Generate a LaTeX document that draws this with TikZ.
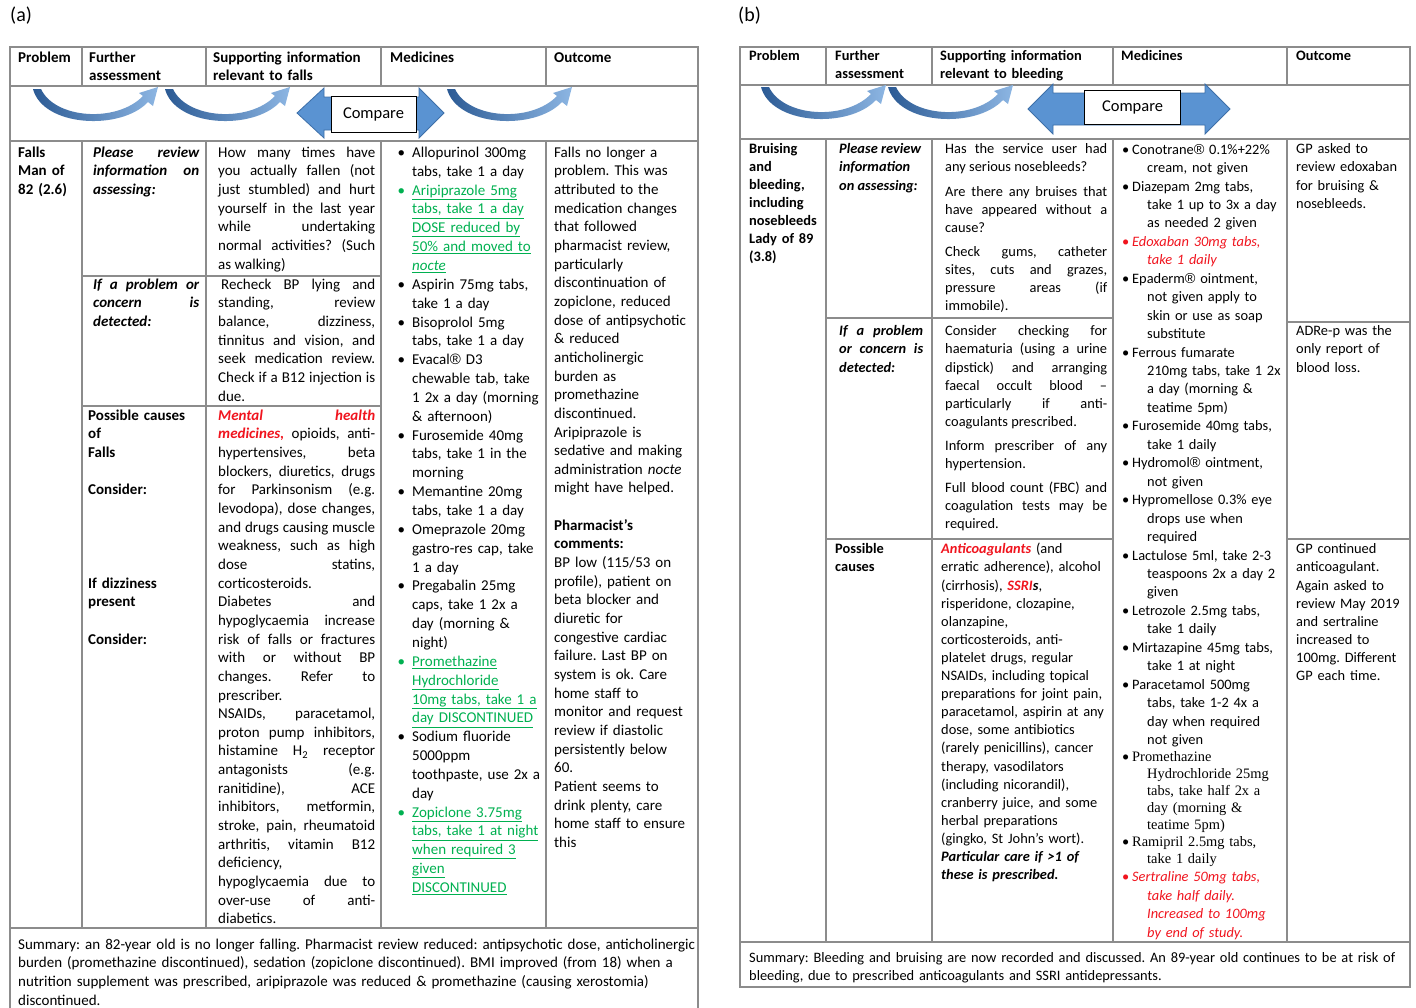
\documentclass[tikz,border=0pt]{standalone}
\usepackage{fontspec}
\setmainfont{Carlito}
\newfontfamily\timesf{Liberation Serif}
\newfontfamily\regf{Liberation Sans}
\usepackage{xcolor}
\usepackage{tikz}

\definecolor{lineg}{HTML}{8C8C8C}
\definecolor{okgreen}{HTML}{00B050}
\definecolor{warnred}{HTML}{F0141E}
\definecolor{swdark}{HTML}{2B5A94}
\definecolor{swlight}{HTML}{8DB6E3}
\definecolor{cmpfill}{HTML}{5A93D2}
\definecolor{cmpedge}{HTML}{3D6FA8}

\tolerance=10000
\hyphenpenalty=10000
\exhyphenpenalty=10000

\newcommand\cellA{\fontsize{15}{18.65}\selectfont\frenchspacing}
\newcommand\cellM{\fontsize{15}{18.85}\selectfont\frenchspacing}
\newcommand\cellB{\fontsize{14.4}{18.1}\selectfont\frenchspacing}
\newcommand\cellMB{\fontsize{14.4}{18.45}\selectfont\frenchspacing}
\newcommand\undl[1]{\underline{#1}}
\newcommand\regm{{\regf ®}}
\newcommand\medA[2][black]{{\leavevmode\color{#1}\llap{\textbullet\hspace{7pt}}#2\par}}
\newcommand\medB[2][black]{{\leavevmode\color{#1}\let\\\newline\hangindent=25pt\hangafter=1\makebox[10pt][l]{\textbullet}#2\par}}

\tikzset{
    grid/.style={draw=lineg, line width=1.3pt},
    cell/.style={anchor=north west, inner sep=0pt, text width=#1, align=left,
        font=\cellA, execute at begin node=\strut},
    jcell/.style={cell=#1, align=justify},
    hd/.style={cell=#1, font=\cellA\bfseries},
    cellb/.style={cell=#1, font=\cellB},
    jcellb/.style={cellb=#1, align=justify},
    hdb/.style={cellb=#1, font=\cellB\bfseries},
    panel/.style={anchor=west, inner sep=0pt, font=\fontsize{20}{24}\selectfont},
    cmparrow/.style={fill=cmpfill, draw=cmpedge, line width=0.8pt, line join=miter},
    cmpbox/.style={draw=black, fill=white, line width=0.9pt, inner sep=0pt,
        font=\fontsize{16.5}{20}\selectfont},
    swoop/.pic={
        \shade[left color=swdark, right color=swlight]
            (0,0) .. controls (10,38) and (88,42) .. (115,13)
            -- (120,17) -- (125,-2) -- (106,4) -- (110,7)
            .. controls (84,34) and (22,30) .. (8,0) -- cycle;
    }
}

\begin{document}
\begin{tikzpicture}[x=1pt,y=-1pt]
        \useasboundingbox (0,0) rectangle (1416,1007);

        % (a) falls
        \draw (10,16) node[panel](laba){(a)};
        \draw[grid] (10,1012) -- (10,47) -- (698,47) -- (698,1012);
        \draw[grid] (10,86) -- (698,86) (10,141) -- (698,141) (10,928) -- (698,928);
        \foreach \x in {82,206,381,546}
            \draw[grid] (\x,47) -- (\x,86) (\x,141) -- (\x,928);
        \draw[grid] (82,276) -- (381,276) (82,406) -- (381,406);

        \draw (18,49) node[hd=60pt](pra){Problem};
        \draw (89,49) node[hd=110pt](fua){Further\\assessment};
        \draw (213,49) node[hd=165pt](sua){Supporting information\\relevant to falls};
        \draw (390,49) node[hd=150pt](mea){Medicines};
        \draw (554,49) node[hd=140pt](oua){Outcome};

        \pic at (33,89) {swoop};
        \pic at (165,89) {swoop};
        \pic at (447,89) {swoop};
        \draw[cmparrow] (297,113) -- (324,88) -- (324,97) -- (419,97) -- (419,88) -- (444,113)
            -- (419,138) -- (419,130) -- (324,130) -- (324,138) -- cycle;
        \draw (373.5,114) node[cmpbox, minimum width=85pt, minimum height=36pt](cma){Compare};

        \draw (18,144) node[hd=60pt](pba){Falls\\Man of\\82 (2.6)};
        \draw (93,144) node[jcell=106pt, font=\cellA\bfseries\itshape](fb1){Please review\linebreak information on\linebreak assessing:};
        \draw (93,276) node[jcell=106pt, font=\cellA\bfseries\itshape](fb2){If a problem or\linebreak concern is\linebreak detected:};
        \draw (88,407) node[hd=115pt](fb3){Possible causes\\of\\Falls\\[\baselineskip]Consider:\\[4\baselineskip]If dizziness\\present\\[\baselineskip]Consider:};

        \draw (218,144) node[jcell=157pt](sb1){How many times have\linebreak you actually fallen (not\linebreak just stumbled) and hurt\linebreak yourself in the last year\linebreak while undertaking\linebreak normal activities? (Such\linebreak as walking)};
        \draw (218,276) node[jcell=157pt](sb2){\hspace{3pt}Recheck BP lying and\linebreak standing, review\linebreak balance, dizziness,\linebreak tinnitus and vision, and\linebreak seek medication review.\linebreak Check if a B12 injection is\linebreak due.};
        \draw (218,407) node[jcell=157pt](sb3){{\color{warnred}\bfseries\itshape Mental health\linebreak medicines,} opioids, anti-\linebreak hypertensives, beta\linebreak blockers, diuretics, drugs\linebreak for Parkinsonism (e.g.\linebreak levodopa), dose changes,\linebreak and drugs causing muscle\linebreak weakness, such as high\linebreak dose statins,\linebreak corticosteroids.\par
            Diabetes and\linebreak hypoglycaemia increase\linebreak risk of falls or fractures\linebreak with or without BP\linebreak changes. Refer to\linebreak prescriber.\par
            NSAIDs, paracetamol,\linebreak proton pump inhibitors,\linebreak histamine H\textsubscript{2} receptor\linebreak antagonists (e.g.\linebreak ranitidine), ACE\linebreak inhibitors, metformin,\linebreak stroke, pain, rheumatoid\linebreak arthritis, vitamin B12\linebreak deficiency,\\hypoglycaemia due to\linebreak over-use of anti-\linebreak diabetics.};

        \draw (412,144) node[cell=135pt, font=\cellM](mba){\medA{Allopurinol 300mg\\tabs, take 1 a day}
            \medA[okgreen]{\undl{Aripiprazole 5mg}\\\undl{tabs, take 1 a day}\\\undl{DOSE reduced by}\\\undl{50\% and moved to}\\\undl{\textit{nocte}}}
            \medA{Aspirin 75mg tabs,\\take 1 a day}
            \medA{Bisoprolol 5mg\\tabs, take 1 a day}
            \medA{Evacal\regm{} D3\\chewable tab, take\\1 2x a day (morning\\\& afternoon)}
            \medA{Furosemide 40mg\\tabs, take 1 in the\\morning}
            \medA{Memantine 20mg\\tabs, take 1 a day}
            \medA{Omeprazole 20mg\\gastro-res cap, take\\1 a day}
            \medA{Pregabalin 25mg\\caps, take 1 2x a\\day (morning \&\\night)}
            \medA[okgreen]{\undl{Promethazine}\\\undl{Hydrochloride}\\\undl{10mg tabs, take 1 a}\\\undl{day DISCONTINUED}}
            \medA{Sodium fluoride\\5000ppm\\toothpaste, use 2x a\\day}
            \medA[okgreen]{\undl{Zopiclone 3.75mg}\\\undl{tabs, take 1 at night}\\\undl{when required 3}\\\undl{given}\\\undl{DISCONTINUED}}};

        \draw (554,144) node[cell=142pt](oba){Falls no longer a\\problem. This was\\attributed to the\\medication changes\\that followed\\pharmacist review,\\particularly\\discontinuation of\\zopiclone, reduced\\dose of antipsychotic\\\& reduced\\anticholinergic\\burden as\\promethazine\\discontinued.\\Aripiprazole is\\sedative and making\\administration \textit{nocte}\\might have helped.\\[\baselineskip]\textbf{Pharmacist’s\\comments:}\\BP low (115/53 on\\profile), patient on\\beta blocker and\\diuretic for\\congestive cardiac\\failure. Last BP on\\system is ok. Care\\home staff to\\monitor and request\\review if diastolic\\persistently below\\60.\\Patient seems to\\drink plenty, care\\home staff to ensure\\this};

        \draw (18,936) node[cell=685pt](sma){Summary: an 82-year old is no longer falling. Pharmacist review reduced: antipsychotic dose, anticholinergic\\burden (promethazine discontinued), sedation (zopiclone discontinued). BMI improved (from 18) when a\\nutrition supplement was prescribed, aripiprazole was reduced \& promethazine (causing xerostomia)\\discontinued.};

        % (b) bleeding
        \draw (738,16) node[panel](labb){(b)};
        \draw[grid] (740,47) rectangle (1410,987);
        \draw[grid] (740,85) -- (1410,85) (740,139) -- (1410,139) (740,942) -- (1410,942);
        \foreach \x in {826,932,1113,1287}
            \draw[grid] (\x,47) -- (\x,85) (\x,139) -- (\x,942);
        \draw[grid] (826,318) -- (1113,318) (826,539) -- (1113,539) (1287,322) -- (1410,322) (1287,539) -- (1410,539);

        \draw (749,48) node[hdb=70pt](prb){Problem};
        \draw (835,48) node[hdb=95pt](fub){Further\\assessment};
        \draw (940,48) node[hdb=170pt](sub){Supporting information\\relevant to bleeding};
        \draw (1121,48) node[hdb=160pt](meb){Medicines};
        \draw (1296,48) node[hdb=110pt](oub){Outcome};

        \pic at (761,87) {swoop};
        \pic at (888,87) {swoop};
        \draw[cmparrow] (1028,109) -- (1053,84) -- (1053,93) -- (1205,93) -- (1205,84) -- (1230,109)
            -- (1205,134) -- (1205,125) -- (1053,125) -- (1053,134) -- cycle;
        \draw (1132.5,107) node[cmpbox, minimum width=96pt, minimum height=34pt](cmb){Compare};

        \draw (749,141) node[hdb=75pt, font=\fontsize{14.4}{18}\selectfont\bfseries](pbb){Bruising\\and\\bleeding,\\including\\nosebleeds\\Lady of 89\\(3.8)};
        \draw (839,141) node[jcellb=84pt, font=\cellB\bfseries\itshape](gb1){Please review\\information\\on assessing:};
        \draw (839,323) node[jcellb=84pt, font=\cellB\bfseries\itshape](gb2){If a problem\linebreak or concern is\linebreak detected:};
        \draw (835,541) node[hdb=90pt](gb3){Possible\\causes};

        \draw (945,141) node[jcellb=162pt](tb1){\setlength{\parskip}{6pt}Has the service user had\linebreak any serious nosebleeds?\par
            Are there any bruises that\linebreak have appeared without a\linebreak cause?\par
            Check gums, catheter\linebreak sites, cuts and grazes,\linebreak pressure areas (if\linebreak immobile).};
        \draw (945,323) node[jcellb=162pt](tb2){\setlength{\parskip}{6pt}Consider checking for\linebreak haematuria (using a urine\linebreak dipstick) and arranging\linebreak faecal occult blood –\linebreak particularly if anti-\linebreak coagulants prescribed.\par
            Inform prescriber of any\linebreak hypertension.\par
            Full blood count (FBC) and\linebreak coagulation tests may be\linebreak required.};
        \draw (941,541) node[cellb=170pt](tb3){{\color{warnred}\bfseries\itshape Anticoagulants} (and\\erratic adherence), alcohol\\(cirrhosis), {\bfseries\itshape{\color{warnred}SSRI}s},\\risperidone, clozapine,\\olanzapine,\\corticosteroids, anti-\\platelet drugs, regular\\NSAIDs, including topical\\preparations for joint pain,\\paracetamol, aspirin at any\\dose, some antibiotics\\(rarely penicillins), cancer\\therapy, vasodilators\\(including nicorandil),\\cranberry juice, and some\\herbal preparations\\(gingko, St John’s wort).\\{\bfseries\itshape Particular care if >1 of\\these is prescribed.}};

        \draw (1122,141) node[cell=162pt, font=\cellMB](mbb){\medB{Conotrane\regm{} 0.1\%+22\%\\cream, not given}
            \medB{Diazepam 2mg tabs,\\take 1 up to 3x a day\\as needed 2 given}
            \medB[warnred]{\itshape Edoxaban 30mg tabs,\\take 1 daily}
            \medB{Epaderm\regm{} ointment,\\not given apply to\\skin or use as soap\\substitute}
            \medB{Ferrous fumarate\\210mg tabs, take 1 2x\\a day (morning \&\\teatime 5pm)}
            \medB{Furosemide 40mg tabs,\\take 1 daily}
            \medB{Hydromol\regm{} ointment,\\not given}
            \medB{Hypromellose 0.3\% eye\\drops use when\\required}
            \medB{Lactulose 5ml, take 2-3\\teaspoons 2x a day 2\\given}
            \medB{Letrozole 2.5mg tabs,\\take 1 daily}
            \medB{Mirtazapine 45mg tabs,\\take 1 at night}
            \medB{Paracetamol 500mg\\tabs, take 1-2 4x a\\day when required\\not given}
            \medB{\timesf\fontsize{14.4}{17}\selectfont Promethazine\\Hydrochloride 25mg\\tabs, take half 2x a\\day (morning \&\\teatime 5pm)}
            \medB{\timesf\fontsize{14.4}{17}\selectfont Ramipril 2.5mg tabs,\\take 1 daily}
            \medB[warnred]{\itshape Sertraline 50mg tabs,\\take half daily.\\Increased to 100mg\\by end of study.}};

        \draw (1296,141) node[cellb=112pt](ob1){GP asked to\\review edoxaban\\for bruising \&\\nosebleeds.};
        \draw (1296,323) node[cellb=112pt](ob2){ADRe-p was the\\only report of\\blood loss.};
        \draw (1296,541) node[cellb=112pt](ob3){GP continued\\anticoagulant.\\Again asked to\\review May 2019\\and sertraline\\increased to\\100mg. Different\\GP each time.};

        \draw (749,950) node[cellb=660pt](smb){Summary: Bleeding and bruising are now recorded and discussed. An 89-year old continues to be at risk of\\bleeding, due to prescribed anticoagulants and SSRI antidepressants.};
\end{tikzpicture}
\end{document}
